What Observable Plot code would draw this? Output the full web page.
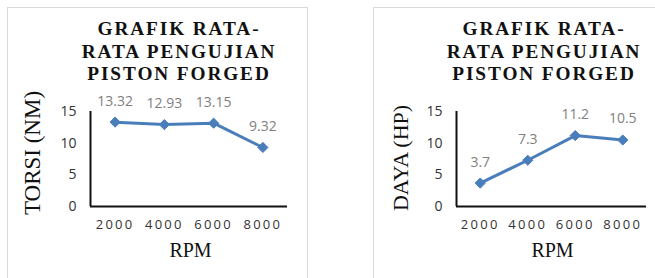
<!DOCTYPE html>
<html><head><meta charset="utf-8">
<script src="https://cdn.jsdelivr.net/npm/d3@7"></script>
<script src="https://cdn.jsdelivr.net/npm/@observablehq/plot@0.6"></script>
<style>
body{margin:0;background:#fff;}
#wrap{position:relative;width:655px;height:278px;overflow:hidden;background:#fff}
.panel{position:absolute;border:1px solid #d9d9d9;box-sizing:border-box}
.title{position:absolute;font-family:"Liberation Serif","Times New Roman",serif;font-weight:bold;font-size:19.3px;line-height:22.5px;letter-spacing:1.9px;text-align:center;color:#111;white-space:nowrap}
.chart{position:absolute;top:0}
</style></head>
<body>
<div id="wrap">
  <div class="panel" style="left:7px;top:7px;width:301px;height:300px"></div>
  <div class="panel" style="left:373px;top:7px;width:300px;height:300px"></div>
</div>
<script>
const rpm = [2000, 4000, 6000, 8000];
const torsi = [13.32, 12.93, 13.15, 9.32];
const daya = [3.7, 7.3, 11.2, 10.5];
const yTicks = [0, 5, 10, 15];
const titleText = ["GRAFIK RATA-", "RATA PENGUJIAN", "PISTON FORGED"];
const xLabel = "RPM";
const yLabels = ["TORSI (NM)", "DAYA (HP)"];

const blue = "#4a7ebb";
const wrap = document.getElementById("wrap");

function makeChart(values, yLabel, cfg) {
  const data = rpm.map((r, i) => ({rpm: r, v: values[i]}));
  const svg = Plot.plot({
    width: cfg.width, height: 278,
    marginLeft: cfg.ml, marginRight: cfg.mr, marginTop: 111, marginBottom: 72,
    style: {background: "transparent", overflow: "visible"},
    x: {domain: [1000, 9000]},
    y: {domain: [0, 15]},
    marks: [
      Plot.axisY({ticks: yTicks, tickSize: 0, tickPadding: 14, fontSize: 14, fill: "#333", fontFamily: "Open Sans", label: null}),
      Plot.axisX({ticks: rpm, tickSize: 0, tickPadding: 13, fontSize: 13, fill: "#333", fontFamily: "Open Sans", tickFormat: d => String(d), label: null}),
      Plot.ruleX([1000], {y1: 0, y2: 15, stroke: "#111", strokeWidth: 2}),
      Plot.ruleY([0], {stroke: "#111", strokeWidth: 2}),
      Plot.line(data, {x: "rpm", y: "v", stroke: blue, strokeWidth: 3}),
      Plot.dot(data, {x: "rpm", y: "v", symbol: "diamond2", r: 4.6, fill: blue, stroke: blue, strokeWidth: 1}),
      Plot.text(data, {x: "rpm", y: "v", text: d => String(d.v), dy: -21, fill: "#808080", fontSize: 14, fontFamily: "Open Sans"}),
      Plot.text([yLabel], {frameAnchor: "left", textAnchor: "middle", lineAnchor: "middle", rotate: -90, dx: cfg.ydx, dy: cfg.ydy, fontSize: cfg.yfs, fontFamily: "Liberation Serif", fill: "#111"}),
      Plot.text([xLabel], {frameAnchor: "bottom", textAnchor: "middle", lineAnchor: "middle", dy: 44, dx: cfg.xdx, fontSize: 20, fontFamily: "Liberation Serif", fill: "#111"})
    ]
  });
  d3.select(svg).selectAll('g[aria-label="x-axis tick label"] text').attr("letter-spacing", "2.3px");
  svg.classList.add("chart");
  svg.style.left = cfg.left + "px";
  wrap.appendChild(svg);

  const t = document.createElement("div");
  t.className = "title";
  t.style.left = (cfg.tcx - 150) + "px";
  t.style.width = "300px";
  t.style.top = "18px";
  t.innerHTML = titleText.join("<br>");
  wrap.appendChild(t);
}

makeChart(torsi, yLabels[0], {left: 0, width: 320, ml: 90, mr: 33, ydx: -58, ydy: -6, yfs: 23, xdx: 1.5, tcx: 179});
makeChart(daya, yLabels[1], {left: 330, width: 325, ml: 126, mr: 9, ydx: -56, ydy: -1, yfs: 22, xdx: 1, tcx: 544});
</script>
</body></html>
